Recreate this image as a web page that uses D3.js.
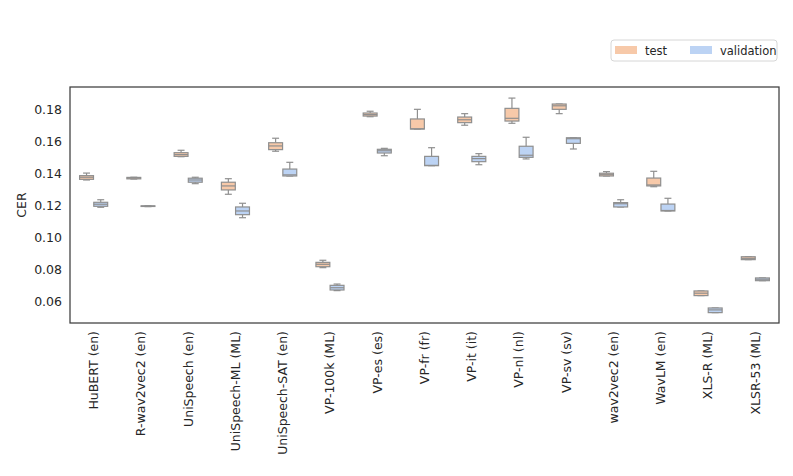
<!DOCTYPE html>
<html>
<head>
<meta charset="utf-8">
<script src="https://cdn.jsdelivr.net/npm/d3@7"></script>
<style>
  body { margin: 0; background: #fff; }
  text { font-family: "DejaVu Sans", sans-serif; fill: #262626; }
</style>
</head>
<body>
<svg id="chart" width="793" height="476"></svg>
<script>
// model names along the x axis
var models = ["HuBERT (en)", "R-wav2vec2 (en)", "UniSpeech (en)", "UniSpeech-ML (ML)",
  "UniSpeech-SAT (en)", "VP-100k (ML)", "VP-es (es)", "VP-fr (fr)", "VP-it (it)",
  "VP-nl (nl)", "VP-sv (sv)", "wav2vec2 (en)", "WavLM (en)", "XLS-R (ML)", "XLSR-53 (ML)"];

var splits = ["test", "validation"];
var splitColors = ["#f7c9a9", "#bcd3f4"];

// [whisker low, q1, median, q3, whisker high]
var testStats = [
  [0.1358, 0.1362, 0.1375, 0.1385, 0.1401],
  [0.1364, 0.1365, 0.1370, 0.1374, 0.1375],
  [0.1503, 0.1505, 0.1516, 0.1528, 0.1543],
  [0.1269, 0.1296, 0.1321, 0.1344, 0.1366],
  [0.1537, 0.1547, 0.1570, 0.1590, 0.1618],
  [0.0812, 0.0818, 0.0833, 0.0845, 0.0858],
  [0.1752, 0.1756, 0.1765, 0.1775, 0.1786],
  [0.1675, 0.1675, 0.1677, 0.1738, 0.1798],
  [0.1699, 0.1715, 0.1733, 0.1750, 0.1771],
  [0.1711, 0.1725, 0.1742, 0.1804, 0.1868],
  [0.1771, 0.1798, 0.1820, 0.1831, 0.1831],
  [0.1383, 0.1383, 0.1391, 0.1400, 0.1410],
  [0.1316, 0.1321, 0.1327, 0.1370, 0.1412],
  [0.0638, 0.0638, 0.0653, 0.0667, 0.0667],
  [0.0862, 0.0862, 0.0870, 0.0880, 0.0880]
];

var valStats = [
  [0.1188, 0.1194, 0.1207, 0.1219, 0.1235],
  [0.1192, 0.1193, 0.1195, 0.1197, 0.1198],
  [0.1335, 0.1344, 0.1358, 0.1369, 0.1375],
  [0.1123, 0.1142, 0.1165, 0.1190, 0.1213],
  [0.1383, 0.1383, 0.1390, 0.1426, 0.1468],
  [0.0669, 0.0673, 0.0687, 0.0702, 0.0710],
  [0.1509, 0.1526, 0.1540, 0.1549, 0.1555],
  [0.1447, 0.1447, 0.1449, 0.1505, 0.1559],
  [0.1453, 0.1472, 0.1491, 0.1505, 0.1522],
  [0.1489, 0.1499, 0.1512, 0.1568, 0.1624],
  [0.1551, 0.1586, 0.1615, 0.1621, 0.1621],
  [0.1190, 0.1190, 0.1210, 0.1217, 0.1235],
  [0.1165, 0.1165, 0.1168, 0.1208, 0.1244],
  [0.0532, 0.0532, 0.0549, 0.0561, 0.0561],
  [0.0731, 0.0731, 0.0740, 0.0748, 0.0748]
];

var yTicks = [0.06, 0.08, 0.10, 0.12, 0.14, 0.16, 0.18];

var svg = d3.select("#chart");
var mLeft = 70, mRight = 779, mTop = 87, mBottom = 323;

var x = d3.scaleBand().domain(models).range([mLeft, mRight]).padding(0);
var hue = d3.scaleBand().domain(splits).range([x.bandwidth() * 0.2, x.bandwidth() * 0.8]);
var y = d3.scaleLinear().domain([0.04674, 0.19370]).range([mBottom, mTop]);
var color = d3.scaleOrdinal().domain(splits).range(splitColors);

var edge = "#8f8f8f";

// y axis labels (no tick marks)
var yAxis = svg.append("g")
  .attr("transform", "translate(" + mLeft + ",0)")
  .call(d3.axisLeft(y).tickValues(yTicks).tickFormat(d3.format(".2f")).tickSize(0).tickPadding(8));
yAxis.select(".domain").remove();
yAxis.selectAll("text").style("font-size", "12.5px").style("font-family", "DejaVu Sans").attr("fill", "#262626");

svg.append("text")
  .attr("transform", "translate(26," + ((mTop + mBottom) / 2) + ") rotate(-90)")
  .attr("text-anchor", "middle")
  .style("font-size", "12.5px")
  .text("CER");

// x axis labels rotated
var xAxis = svg.append("g")
  .attr("transform", "translate(0," + mBottom + ")")
  .call(d3.axisBottom(x).tickSize(0).tickPadding(0));
xAxis.select(".domain").remove();
xAxis.selectAll("text")
  .style("font-size", "12.5px")
  .style("font-family", "DejaVu Sans")
  .attr("fill", "#262626")
  .attr("text-anchor", "end")
  .attr("dy", "0.35em")
  .attr("transform", "translate(0,8) rotate(-90)")
  .attr("y", 0)
  .attr("x", 0);

// boxes
function drawBoxes(stats, split) {
  var bw = hue.bandwidth() * 0.98;
  var g = svg.append("g").selectAll("g")
    .data(stats)
    .enter()
    .append("g")
    .attr("transform", (d, i) => "translate(" + (x(models[i]) + hue(split) + hue.bandwidth() / 2) + ",0)");

  g.append("line")
    .attr("x1", 0).attr("x2", 0)
    .attr("y1", d => y(d[4])).attr("y2", d => y(d[3]))
    .attr("stroke", edge).attr("stroke-width", 1.2);
  g.append("line")
    .attr("x1", 0).attr("x2", 0)
    .attr("y1", d => y(d[1])).attr("y2", d => y(d[0]))
    .attr("stroke", edge).attr("stroke-width", 1.2);
  g.append("line")
    .attr("x1", -bw / 4).attr("x2", bw / 4)
    .attr("y1", d => y(d[4])).attr("y2", d => y(d[4]))
    .attr("stroke", edge).attr("stroke-width", 1.2);
  g.append("line")
    .attr("x1", -bw / 4).attr("x2", bw / 4)
    .attr("y1", d => y(d[0])).attr("y2", d => y(d[0]))
    .attr("stroke", edge).attr("stroke-width", 1.2);
  g.append("rect")
    .attr("x", -bw / 2)
    .attr("width", bw)
    .attr("y", d => y(d[3]))
    .attr("height", d => Math.max(0.5, y(d[1]) - y(d[3])))
    .attr("fill", color(split))
    .attr("stroke", edge).attr("stroke-width", 1.2);
  g.append("line")
    .attr("x1", -bw / 2).attr("x2", bw / 2)
    .attr("y1", d => y(d[2])).attr("y2", d => y(d[2]))
    .attr("stroke", edge).attr("stroke-width", 1.2);
}

drawBoxes(testStats, "test");
drawBoxes(valStats, "validation");

// frame
svg.append("rect")
  .attr("x", mLeft).attr("y", mTop)
  .attr("width", mRight - mLeft).attr("height", mBottom - mTop)
  .attr("fill", "none").attr("stroke", "#3d3d3d").attr("stroke-width", 1.25);

// legend
var leg = svg.append("g").attr("transform", "translate(611,40)");
leg.append("rect")
  .attr("width", 166).attr("height", 21).attr("rx", 3)
  .attr("fill", "#fff").attr("stroke", "#d6d6d6").attr("stroke-width", 1);
var items = leg.selectAll(".item").data(splits).enter().append("g")
  .attr("transform", (d, i) => "translate(" + (i === 0 ? 4 : 79) + ",0)");
items.append("rect")
  .attr("y", 6).attr("width", 22).attr("height", 8)
  .attr("fill", d => color(d));
items.append("text")
  .attr("x", 30).attr("y", 15)
  .style("font-size", "11.5px")
  .text(d => d);
</script>
</body>
</html>
